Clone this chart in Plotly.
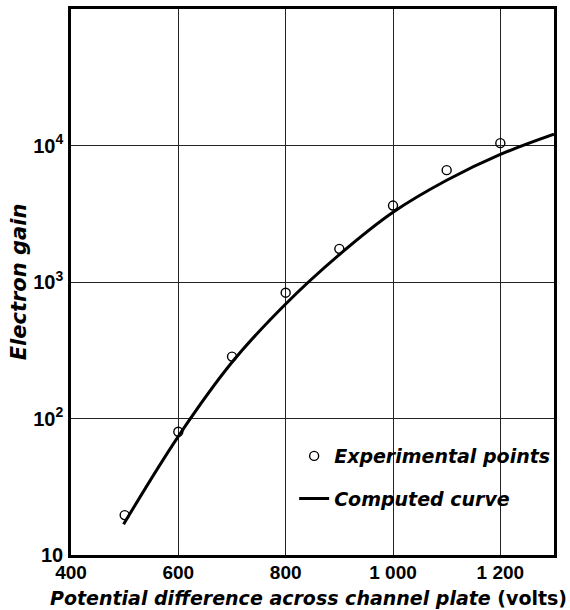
import plotly.graph_objects as go

# Measured electron gain of a channel plate versus applied voltage
exp_voltage = [500, 600, 700, 800, 900, 1000, 1100, 1200]
exp_gain = [19.6, 80, 284, 835, 1750, 3630, 6600, 10400]

# Computed gain curve
calc_voltage = [498, 600, 700, 800, 900, 1000, 1100, 1200, 1300]
calc_gain = [16.8, 74, 258, 690, 1585, 3240, 5560, 8600, 12100]

x_ticks = [400, 600, 800, 1000, 1200]
x_ticktext = ["400", "600", "800", "1 000", "1 200"]
y_ticks = [10, 100, 1000, 10000]
y_ticktext = ["10", "10<sup>2</sup>", "10<sup>3</sup>", "10<sup>4</sup>"]

TICK_FONT = "Liberation Sans"
LABEL_FONT = "DejaVu Sans"

fig = go.Figure()

fig.add_trace(go.Scatter(
    x=exp_voltage, y=exp_gain, mode="markers",
    name="Experimental points",
    legendgroup="a",
    marker=dict(symbol="circle-open", size=9, color="black",
                line=dict(width=1.4, color="black")),
))

fig.add_trace(go.Scatter(
    x=calc_voltage, y=calc_gain, mode="lines",
    name="Computed curve",
    legendgroup="b",
    line=dict(color="black", width=3, shape="spline", smoothing=1.0),
))

fig.update_layout(
    width=570, height=610,
    margin=dict(l=71, r=16, t=6, b=55),
    paper_bgcolor="white", plot_bgcolor="white",
    font=dict(family=TICK_FONT, color="black", size=18),
    showlegend=True,
    legend=dict(
        x=0.462, y=0.216, xanchor="left", yanchor="top",
        bgcolor="rgba(0,0,0,0)",
        font=dict(size=19, family=LABEL_FONT, weight="bold", style="italic"),
        tracegroupgap=15, traceorder="grouped",
    ),
    xaxis=dict(
        range=[400, 1300], tickvals=x_ticks, ticktext=x_ticktext,
        showgrid=True, gridcolor="#222", gridwidth=1,
        showline=True, linecolor="black", linewidth=2.5, mirror=True,
        ticks="", zeroline=False, ticklabelstandoff=-2,
        tickfont=dict(family=TICK_FONT, size=19, weight="bold"),
    ),
    yaxis=dict(
        type="log", range=[1, 5], tickvals=y_ticks, ticktext=y_ticktext,
        showgrid=True, gridcolor="#222", gridwidth=1,
        showline=True, linecolor="black", linewidth=2.5, mirror=True,
        ticks="", zeroline=False, ticklabelstandoff=1,
        tickfont=dict(family=TICK_FONT, size=20, weight="bold"),
        title=dict(text="Electron gain", standoff=1,
                   font=dict(family=LABEL_FONT, size=21, weight="bold",
                             style="italic")),
    ),
)

fig.add_annotation(
    text="<i>Potential difference across channel plate</i> (volts)",
    xref="paper", yref="paper", x=0.492, y=-0.078,
    xanchor="center", yanchor="middle", showarrow=False,
    font=dict(family=LABEL_FONT, size=19, color="black", weight="bold"),
)

fig.write_html("out.html")
